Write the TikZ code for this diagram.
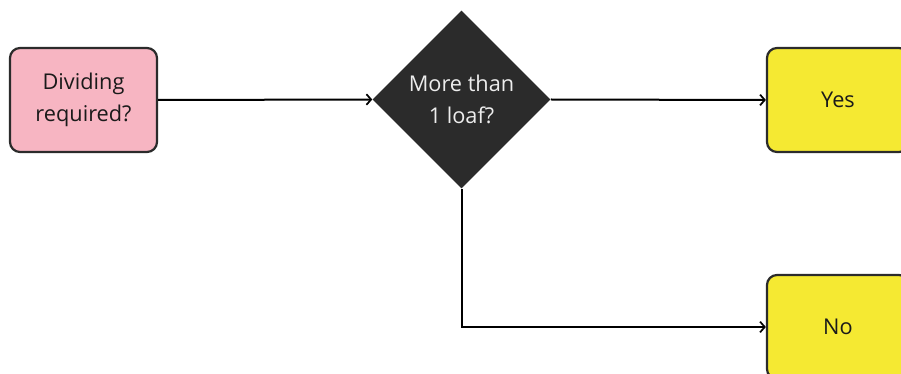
\documentclass[tikz,border=0pt]{standalone}
\usepackage{fontspec}
\setmainfont{Open Sans}
\usetikzlibrary{shapes.geometric,arrows.meta}
\definecolor{pinkfill}{HTML}{F7B5C2}
\definecolor{yellowfill}{HTML}{F5E932}
\definecolor{darkline}{HTML}{2B2B2B}
\definecolor{darktext}{HTML}{1A1A1A}
\tikzset{
  box/.style={draw=darkline, line width=2.2pt*0.75, rounded corners=7.5pt, minimum width=147*0.75pt, minimum height=104*0.75pt, inner sep=0pt, align=center, text=darktext, font=\fontsize{16.3pt}{24.5pt}\selectfont},
  decision/.style={diamond, fill=darkline, draw=none, minimum width=178*0.75pt, minimum height=178*0.75pt, inner sep=0pt, align=center, text=white!93!black, font=\fontsize{16.3pt}{24.5pt}\selectfont},
  conn/.style={line width=1.5pt, draw=black, -{Straight Barb[length=3.5pt,width=8pt,line width=1.3pt]}}
}
\begin{document}
\begin{tikzpicture}[x=0.75pt,y=-0.75pt]
\useasboundingbox (0,0) rectangle (901,374);
\clip (0,0) rectangle (901,374);
\node[box, fill=pinkfill] (divide) at (83.5,100) {Dividing\\required?};
\node[decision] (loaf) at (461.5,99.5) {More than\\1 loaf?};
\node[box, fill=yellowfill, minimum width=142*0.75pt] (yes) at (838,100) {Yes};
\node[box, fill=yellowfill, minimum width=142*0.75pt] (no) at (838,327) {No};
\draw[conn] (divide.east) -- (loaf.west);
\draw[conn] (loaf.east) -- (yes.west);
\draw[conn] (loaf.south) |- (no.west);
\end{tikzpicture}
\end{document}
